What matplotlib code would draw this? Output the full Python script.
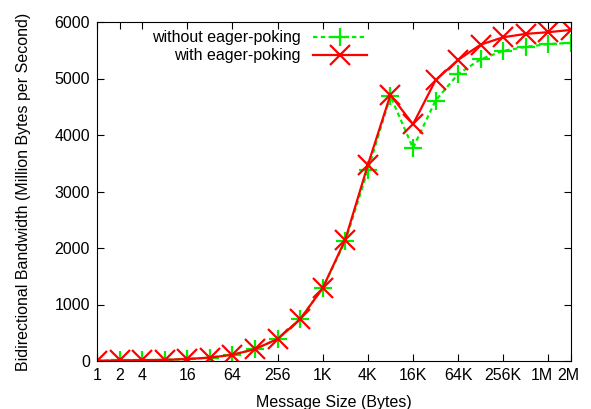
import matplotlib
matplotlib.use('Agg')
import matplotlib.pyplot as plt
from matplotlib.transforms import ScaledTranslation

plt.rcParams['font.family'] = ['Liberation Sans', 'DejaVu Sans']

# message sizes 1 .. 2M bytes (powers of two)
sizes = [2 ** k for k in range(22)]
without_poke = [5, 10, 15, 20, 35, 60, 110, 210, 390, 740, 1290, 2120, 3380, 4690,
                3770, 4610, 5080, 5340, 5490, 5560, 5610, 5630]
with_poke = [5, 10, 15, 20, 35, 60, 110, 210, 390, 740, 1290, 2150, 3470, 4710,
             4190, 4970, 5330, 5600, 5730, 5790, 5820, 5860]

tick_pos = [1, 2, 4, 16, 64, 256, 1024, 4096, 16384, 65536, 262144, 1048576, 2097152]
tick_lab = ['1', '2', '4', '16', '64', '256', '1K', '4K', '16K', '64K', '256K', '1M', '2M']

fs = 11.5

fig = plt.figure(figsize=(5.91, 4.09), dpi=100)
ax = fig.add_axes([97 / 591, 48 / 409, 474 / 591, 339 / 409])

ax.plot(sizes, without_poke, color='#00ee00', ls=(0, (2, 1.5)), lw=1.6,
        marker='+', ms=13, mew=1.6, label='without eager-poking')
ax.plot(sizes, with_poke, color='#ff0000', ls='-', lw=1.6,
        marker='x', ms=14, mew=1.6, label='with eager-poking')

ax.set_xscale('log', base=2)
ax.set_xlim(1, 2 ** 21)
ax.set_ylim(0, 6000)
ax.set_xticks(tick_pos)
ax.set_xticklabels(tick_lab)
ax.minorticks_off()
ax.set_yticks(range(0, 6001, 1000))
ax.tick_params(direction='in', top=True, right=True, labelsize=fs, length=5, pad=5)

# 1M and 2M labels sit side by side, nudged a little left
for lab in ax.get_xticklabels():
    if lab.get_text() == '1M':
        lab.set_transform(lab.get_transform() + ScaledTranslation(-7 / 100, 0, fig.dpi_scale_trans))
    elif lab.get_text() == '2M':
        lab.set_transform(lab.get_transform() + ScaledTranslation(-3 / 100, 0, fig.dpi_scale_trans))

ax.set_xlabel('Message Size (Bytes)', fontsize=fs, labelpad=9)
ax.set_ylabel('Bidirectional Bandwidth (Million Bytes per Second)', fontsize=fs, labelpad=17)

ax.legend(loc='upper left', bbox_to_anchor=(0.085, 1.018), frameon=False, markerfirst=False,
          fontsize=fs, handlelength=3.4, handletextpad=0.8, labelspacing=0.2)
leg = ax.get_legend()
for lab in leg.get_texts():
    lab.set_horizontalalignment('right')
leg._legend_box.align = 'right'

fig.savefig('out.png', dpi=100)
